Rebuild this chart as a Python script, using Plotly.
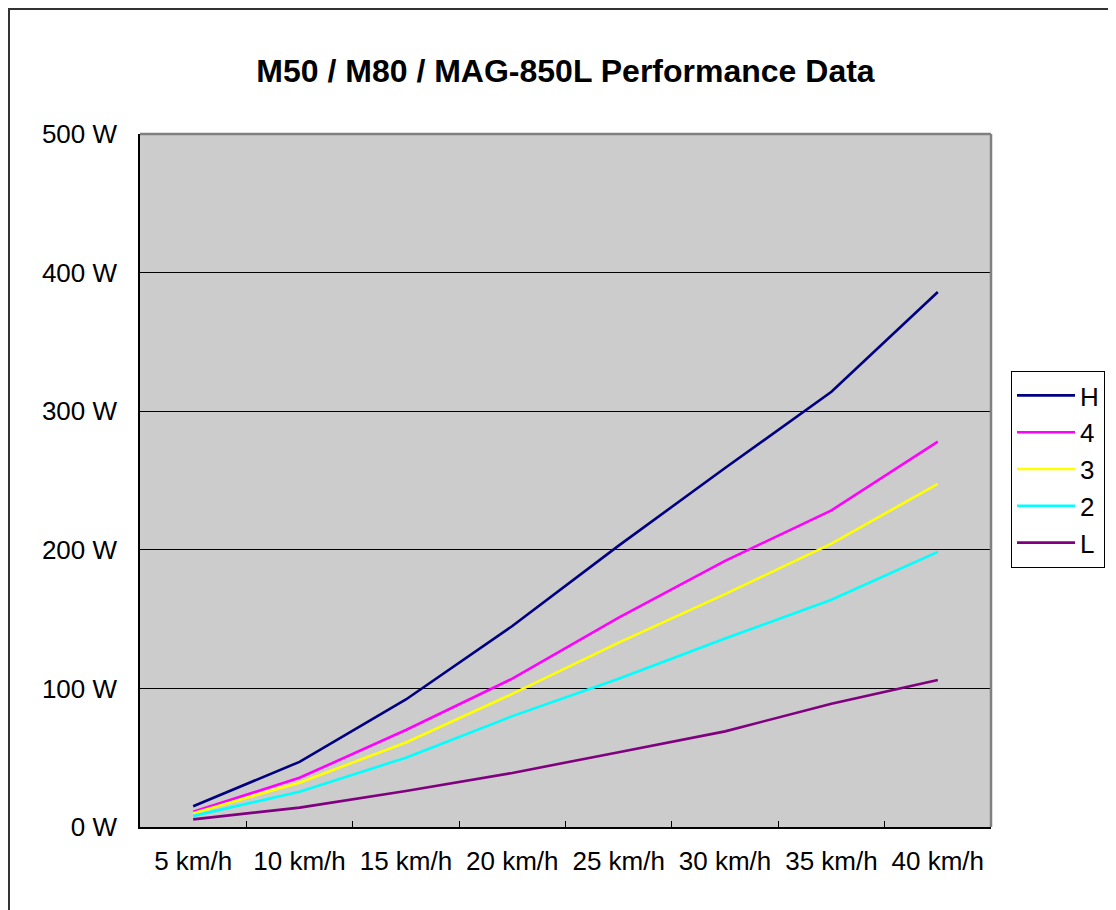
import plotly.graph_objects as go

categories = ["5 km/h", "10 km/h", "15 km/h", "20 km/h", "25 km/h", "30 km/h", "35 km/h", "40 km/h"]
series_names = ["H", "4", "3", "2", "L"]
H_vals = [15, 47, 92, 145, 203, 259, 314, 386]
s4_vals = [11, 35.5, 70, 107, 151, 192, 228.5, 278]
s3_vals = [10, 32, 61, 96, 133, 168, 204.5, 247.5]
s2_vals = [8, 25.5, 50, 80, 107, 136, 164, 198.5]
L_vals = [5.5, 14, 26, 39, 54, 69, 89, 106]
y_ticks = [0, 100, 200, 300, 400, 500]
y_tick_labels = ["0 W", "100 W", "200 W", "300 W", "400 W", "500 W"]
colors = ["#000080", "#FF00FF", "#FFFF00", "#00FFFF", "#800080"]

FONT = "Liberation Sans, Arial, sans-serif"

W, Hh = 1116, 910
OFF = 8  # page offset of the figure in the browser
L_px, R_px, T_px, B_px = 140 - OFF, 991 - OFF, 134 - OFF, 827 - OFF
pw, ph = R_px - L_px, B_px - T_px

def px_x(x):
    return (x - OFF - L_px) / pw

def px_y(y):
    return (B_px - (y - OFF)) / ph

fig = go.Figure()
for name, vals, c in zip(series_names, [H_vals, s4_vals, s3_vals, s2_vals, L_vals], colors):
    fig.add_trace(go.Scatter(x=categories, y=vals, name=name, mode="lines",
                             line=dict(color=c, width=2.6)))

fig.update_layout(
    width=W, height=Hh,
    margin=dict(l=L_px, r=W - R_px, t=T_px, b=Hh - B_px, pad=0),
    paper_bgcolor="white",
    plot_bgcolor="#CCCCCC",
    font=dict(family=FONT, size=26, color="black"),
    title=dict(text="<b>M50 / M80 / MAG-850L Performance Data</b>",
               x=0.5, xref="paper", y=1 - (71 - OFF) / Hh, yref="container",
               xanchor="center", yanchor="middle",
               font=dict(family=FONT, size=32, color="black")),
    showlegend=True,
    legend=dict(x=px_x(1011), y=px_y(371), xanchor="left", yanchor="top",
                bgcolor="white", bordercolor="black", borderwidth=1,
                font=dict(family=FONT, size=26, color="black"),
                itemwidth=58, tracegroupgap=0),
    xaxis=dict(type="category", range=[-0.5, 7.5], showgrid=False,
               showline=True, linecolor="black", linewidth=1.5,
               ticks="inside", ticklen=6, tickcolor="black", tickwidth=1,
               tickson="boundaries", ticklabelstandoff=10,
               tickfont=dict(family=FONT, size=26, color="black"),
               fixedrange=True, zeroline=False),
    yaxis=dict(range=[0, 500], tickmode="array", tickvals=y_ticks, ticktext=y_tick_labels,
               showgrid=True, gridcolor="black", gridwidth=1,
               showline=True, linecolor="black", linewidth=1.5,
               ticks="inside", ticklen=6, tickcolor="black",
               ticklabelstandoff=16, zeroline=False,
               tickfont=dict(family=FONT, size=26, color="black")),
)

# gray border on top and right of plot area
fig.add_shape(type="line", xref="paper", yref="paper", x0=0, x1=1, y0=1, y1=1,
              line=dict(color="#808080", width=2.5), layer="above")
fig.add_shape(type="line", xref="paper", yref="paper", x0=1, x1=1, y0=0, y1=1,
              line=dict(color="#808080", width=2.5), layer="above")

# outer chart border (runs along the figure's left and top edges, extends past the window)
fig.add_shape(type="rect", xref="paper", yref="paper",
              x0=-L_px / pw + 1.0 / pw, x1=1.5, y0=-0.5, y1=1 + (T_px - 1.0) / ph,
              line=dict(color="#333333", width=2), fillcolor="rgba(0,0,0,0)", layer="above")

fig.write_html("out.html")
